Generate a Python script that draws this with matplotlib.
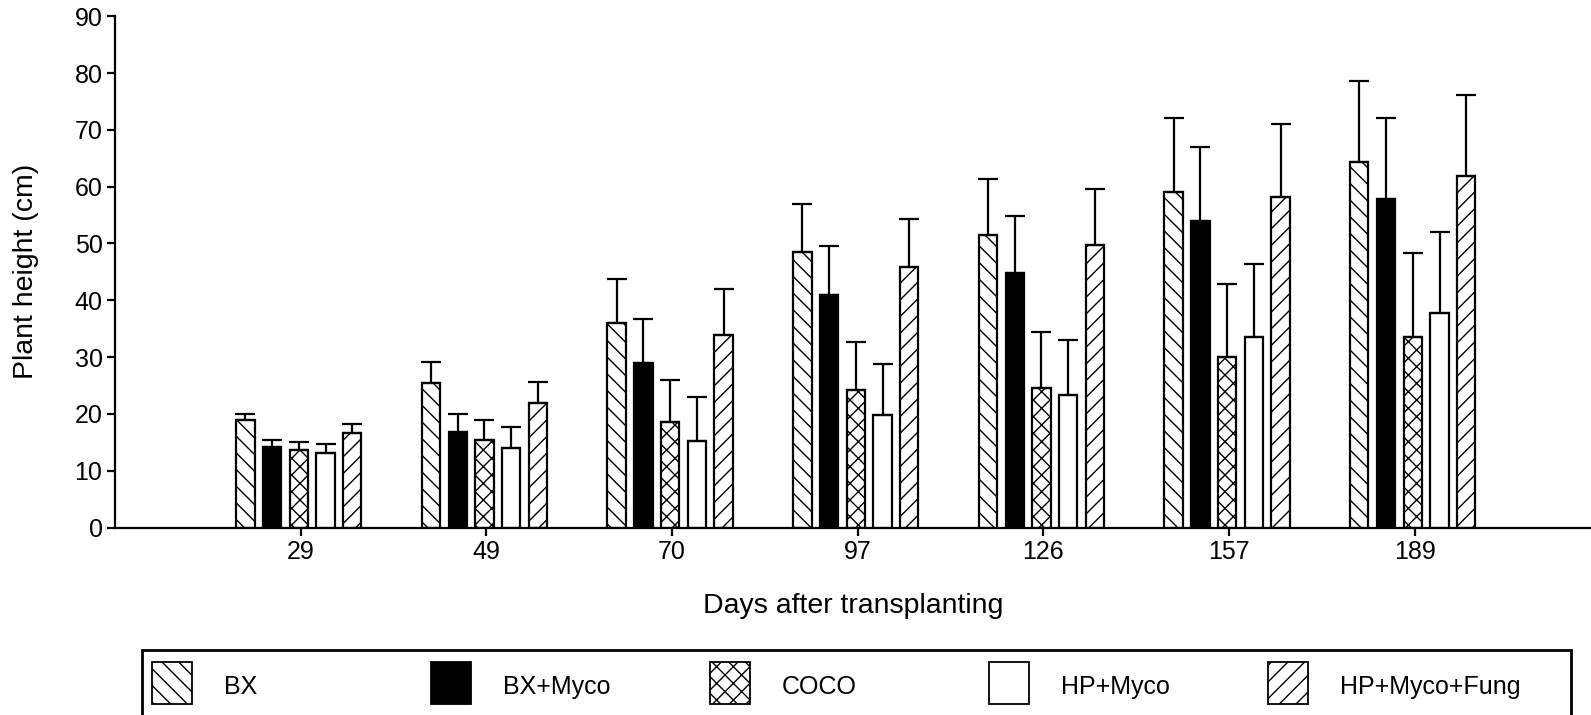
import matplotlib
matplotlib.use("Agg")
import matplotlib.pyplot as plt
import numpy as np
from matplotlib.patches import Rectangle

plt.rcParams["font.family"] = ["Liberation Sans", "DejaVu Sans"]
plt.rcParams["hatch.linewidth"] = 1.0
plt.rcParams["hatch.color"] = "#333333"

days = ["29", "49", "70", "97", "126", "157", "189"]
treatments = ["BX", "BX+Myco", "COCO", "HP+Myco", "HP+Myco+Fung"]

# mean plant height (cm) per treatment
bx = [18.9, 25.5, 36.0, 48.5, 51.5, 59.0, 64.4]
bx_myco = [14.1, 16.8, 29.0, 41.0, 44.8, 54.0, 57.8]
coco = [13.6, 15.4, 18.5, 24.2, 24.5, 30.0, 33.5]
hp_myco = [13.2, 14.0, 15.3, 19.8, 23.3, 33.5, 37.8]
hp_myco_fung = [16.7, 22.0, 33.8, 45.8, 49.8, 58.2, 61.8]

# top of the error bar (cm)
bx_top = [20.0, 29.1, 43.7, 57.0, 61.3, 72.0, 78.6]
bx_myco_top = [15.4, 20.0, 36.7, 49.5, 54.8, 67.0, 72.0]
coco_top = [15.1, 19.0, 26.0, 32.7, 34.5, 42.8, 48.3]
hp_myco_top = [14.7, 17.7, 23.0, 28.7, 33.0, 46.3, 52.1]
hp_myco_fung_top = [18.2, 25.6, 42.0, 54.3, 59.5, 71.0, 76.1]

means = [bx, bx_myco, coco, hp_myco, hp_myco_fung]
tops = [bx_top, bx_myco_top, coco_top, hp_myco_top, hp_myco_fung_top]
styles = [
    {"facecolor": "white", "hatch": "\\\\"},
    {"facecolor": "black", "hatch": None},
    {"facecolor": "white", "hatch": "xx"},
    {"facecolor": "white", "hatch": None},
    {"facecolor": "white", "hatch": "//"},
]

W, H = 1591, 715
fig = plt.figure(figsize=(W / 100, H / 100), dpi=100)
ax = fig.add_axes([115 / W, 1 - 527.5 / H, 1 - 115 / W, 511.3 / H])

x = np.arange(len(days))
step = 0.144
width = 0.099
for i, (vals, top, st) in enumerate(zip(means, tops, styles)):
    pos = x + (i - 2) * step - 0.01
    vals = np.array(vals)
    err = np.array(top) - vals
    ax.bar(pos, vals, width=width, facecolor=st["facecolor"], hatch=st["hatch"],
           edgecolor="black", linewidth=1.6, zorder=2)
    ax.errorbar(pos, vals, yerr=[np.zeros_like(err), err], fmt="none",
                ecolor="black", elinewidth=1.6, capsize=7, capthick=1.6, zorder=3)

ax.set_xlim(-1, 6.95)
ax.set_ylim(0, 90)
ax.set_yticks(np.arange(0, 91, 10))
ax.set_xticks(x)
ax.set_xticklabels(days)
for side in ["top", "right"]:
    ax.spines[side].set_visible(False)
for side in ["left", "bottom"]:
    ax.spines[side].set_linewidth(1.6)
ax.tick_params(axis="both", direction="out", length=6, width=1.6, labelsize=18, pad=3)
ax.set_xlabel("Days after transplanting", fontsize=20.5)
ax.set_ylabel("Plant height (cm)", fontsize=20.5)
ax.xaxis.set_label_coords(0.5, -0.128)
ax.yaxis.set_label_coords((39 - 115) / 1476, 0.5)

# legend box drawn by hand so the five columns sit at equal spacing
fig.patches.append(Rectangle((142 / W, -0.01), (1571 - 142) / W, (715 - 650) / H + 0.01,
                             transform=fig.transFigure, facecolor="white",
                             edgecolor="black", linewidth=2))
col_w = 279
for i, (name, st) in enumerate(zip(treatments, styles)):
    left = 152 + i * col_w
    fig.patches.append(Rectangle((left / W, 1 - 704 / H), 40 / W, 42 / H,
                                 transform=fig.transFigure, facecolor=st["facecolor"],
                                 hatch=st["hatch"], edgecolor="black", linewidth=1.3))
    fig.text((left + 72) / W, 1 - 687 / H, name, fontsize=18, va="center", ha="left")

fig.savefig("out.png", dpi=100)
